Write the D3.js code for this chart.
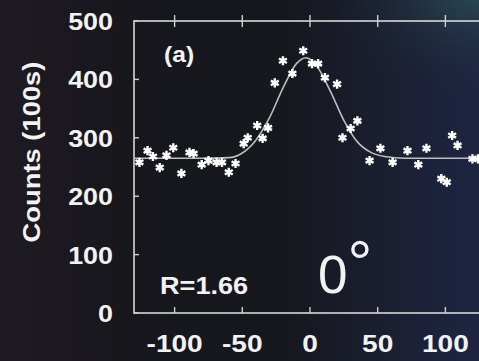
<!DOCTYPE html>
<html>
<head>
<meta charset="utf-8">
<script src="https://cdn.jsdelivr.net/npm/d3@7/dist/d3.min.js"></script>
<style>
html,body{margin:0;padding:0;background:#16171c;}
svg{display:block;}
text{font-family:"Liberation Sans",Arial,sans-serif;fill:#f2f2f2;}
</style>
</head>
<body>
<svg id="chart" width="479" height="361"></svg>
<script>
// ---- data ----
const angles = [-126,-120,-116,-111,-106,-101,-95,-89,-86,-80,-75,-69,-65,-60,-55,-49,-46,-39,-35,-31,-26,-20,-13,-5,1.5,6,11,20,24,30,35,44,52,61,72,80,86,97,101,105,109,120,124];
const counts = [258,278,268,249,270,283,239,275,273,254,261,258,258,241,256,290,300,321,299,317,394,432,410,449,427,427,403,392,300,316,329,261,282,258,278,254,282,230,224,304,287,264,264];
const fitAngles = [-130,-80,-60,-50,-40,-30,-20,-10,-3,5,15,25,35,45,55,70,125];
const fitCounts = [265,265,266,274,296,334,385,427,437,423,380,330,293,275,268,265,265];
const xTicks = [-100,-50,0,50,100];
const yTicks = [0,100,200,300,400,500];
const yLabel = "Counts (100s)";
const panelLabel = "(a)";
const ratioLabel = "R=1.66";
const angleLabel = "0";
const degreeSign = "°";

const svg = d3.select("#chart");
const W = 479, H = 361;

// background
const defs = svg.append("defs");
const g1 = defs.append("linearGradient").attr("id","bgx").attr("x1",0).attr("x2",1).attr("y1",0).attr("y2",0);
g1.append("stop").attr("offset","0").attr("stop-color","#1f1a22");
g1.append("stop").attr("offset","0.25").attr("stop-color","#17171c");
g1.append("stop").attr("offset","0.6").attr("stop-color","#16181e");
g1.append("stop").attr("offset","1").attr("stop-color","#1e2542");
const g2 = defs.append("radialGradient").attr("id","teal").attr("cx",1).attr("cy",-0.05).attr("r",0.32);
g2.append("stop").attr("offset","0").attr("stop-color","#2e5a60").attr("stop-opacity",0.85);
g2.append("stop").attr("offset","0.5").attr("stop-color","#27424c").attr("stop-opacity",0.35);
g2.append("stop").attr("offset","1").attr("stop-color","#1e2a38").attr("stop-opacity",0);
const flt = defs.append("filter").attr("id","soft").attr("x","-20%").attr("y","-20%").attr("width","140%").attr("height","140%");
flt.append("feGaussianBlur").attr("stdDeviation",0.5);

svg.append("rect").attr("width",W).attr("height",H).attr("fill","url(#bgx)");
svg.append("rect").attr("width",W).attr("height",H).attr("fill","url(#teal)");

const x = d3.scaleLinear().domain([-130,130]).range([134,486]);
const y = d3.scaleLinear().domain([0,500]).range([313,21]);

const frame = svg.append("g").attr("stroke","#d8d8d8").attr("stroke-width",1.6).attr("fill","none");
frame.append("rect").attr("x",x(-130)).attr("y",y(500)).attr("width",x(130)-x(-130)).attr("height",y(0)-y(500));

// ticks
const tk = svg.append("g").attr("stroke","#d0d0d0").attr("stroke-width",1.4);
yTicks.forEach(v=>{
  tk.append("line").attr("x1",x(-130)).attr("x2",x(-130)+5).attr("y1",y(v)).attr("y2",y(v));
});
xTicks.forEach(v=>{
  tk.append("line").attr("x1",x(v)).attr("x2",x(v)).attr("y1",y(0)).attr("y2",y(0)-6);
  tk.append("line").attr("x1",x(v)).attr("x2",x(v)).attr("y1",y(500)-6).attr("y2",y(500)+6);
});

// tick labels
const lab = svg.append("g").attr("font-weight","bold").attr("font-size",24);
yTicks.forEach(v=>{
  lab.append("text").attr("text-anchor","end")
    .attr("transform",`translate(113,${y(v)+9}) scale(1.12,1)`).text(v);
});
xTicks.forEach(v=>{
  lab.append("text").attr("text-anchor","middle")
    .attr("transform",`translate(${x(v)},352) scale(1.17,1.03)`).text(v);
});

// y axis title
svg.append("text").attr("font-weight","bold").attr("font-size",24).attr("text-anchor","middle")
  .attr("transform","translate(40,152) rotate(-90) scale(1.14,1)").text(yLabel);

// fit curve
svg.append("path").datum(fitAngles.map((a,i)=>[a,fitCounts[i]]))
  .attr("fill","none").attr("stroke","#bdbdbd").attr("stroke-width",1.6)
  .attr("d", d3.line().x(d=>x(d[0])).y(d=>y(d[1])).curve(d3.curveMonotoneX));

// data points (asterisk markers)
const star = d3.symbol().type(d3.symbolAsterisk).size(58);
svg.append("g").attr("filter","url(#soft)")
  .selectAll("path").data(angles.map((a,i)=>[a,counts[i]])).join("path")
  .attr("d",star).attr("transform",d=>`translate(${x(d[0])},${y(d[1])})`)
  .attr("fill","none").attr("stroke","#ffffff").attr("stroke-width",2.4);

// annotations
svg.append("text").attr("font-weight","bold").attr("font-size",22)
  .attr("transform","translate(164,62) scale(1.12,1)").text(panelLabel);
svg.append("text").attr("font-weight","bold").attr("font-size",24)
  .attr("transform","translate(160,294) scale(1.13,1)").text(ratioLabel);
const t0 = svg.append("text").attr("font-size",53).attr("x",318).attr("y",293).text(angleLabel);
t0.append("tspan").attr("dy",-9).attr("font-size",62).text(degreeSign);
</script>
</body>
</html>
